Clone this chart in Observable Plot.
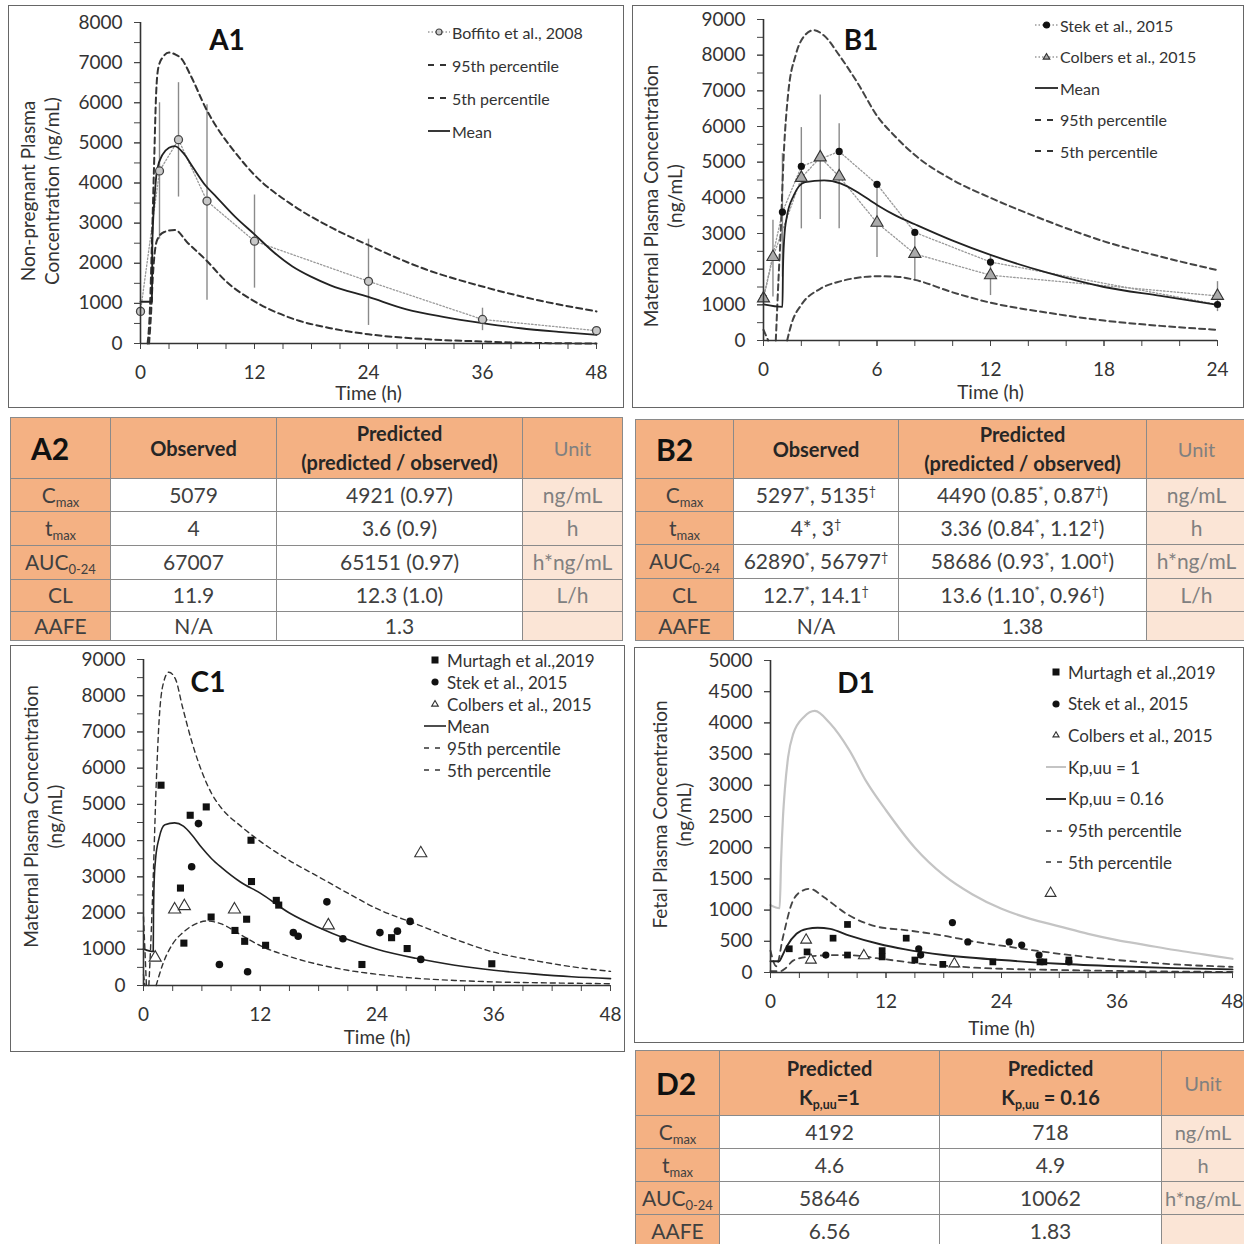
<!DOCTYPE html>
<html><head><meta charset="utf-8">
<script src="https://cdn.jsdelivr.net/npm/d3@7"></script>
<script src="https://cdn.jsdelivr.net/npm/@observablehq/plot@0.6"></script>
<style>
body{margin:0;width:1244px;height:1244px;position:relative;overflow:hidden;background:#fff;font-family:Lato,"Open Sans",sans-serif;}
.box{position:absolute;border:1.5px solid #666;box-sizing:border-box;}
.plab{position:absolute;font-weight:bold;font-size:28px;color:#111;transform:translate(-50%,-50%);line-height:1;}
.lrow{position:absolute;display:flex;align-items:center;white-space:nowrap;color:#333;}
.lrow svg{flex:none;}
table.t{position:absolute;border-collapse:collapse;table-layout:fixed;font-size:21px;color:#404040;}
table.t td{border:1.5px solid #8a8a8a;text-align:center;padding:0;line-height:1.15;overflow:hidden;white-space:nowrap;}
table.t td.h{background:#F4B183;font-weight:bold;color:#262626;font-size:20px;line-height:1.45;}
table.t td.id{background:#F4B183;font-weight:bold;color:#111;font-size:30px;text-align:left;padding-left:20px;}
table.t td.hu{background:#F4B183;color:#808080;font-size:20px;}
table.t td.l{background:#F4B183;color:#404040;}
table.t td.u{background:#FBE5D6;color:#808080;}
table.t.d2 td.u{font-size:20px;}
sub{font-size:0.62em;vertical-align:-0.3em;line-height:0;}
sup{font-size:0.6em;vertical-align:0.55em;line-height:0;}
</style>
</head><body>
<script>
// ---------------- A1 data ----------------
const A1_MEAN_T = [0,1.2,1.25,1.5,1.75,2.3,3.0,3.6,4.5,5.5,6.8,8,10,12,14,16,18,20,24,28,32,36,40,44,48];
const A1_MEAN   = [1040,1040,2500,3700,4330,4700,4880,4921,4750,4400,3950,3650,3150,2720,2280,1920,1660,1450,1160,850,660,510,380,290,215];
const A1_P95_T  = [0.75,1.0,1.2,1.4,1.65,1.9,2.4,3.0,3.7,4.3,5.3,6.9,8,10,12,16,20,24,30,36,42,48];
const A1_P95    = [0,900,2500,4200,6250,6900,7150,7250,7200,7100,6670,5850,5400,4750,4200,3450,2900,2450,1850,1420,1070,800];
const A1_P5_T   = [0.9,1.1,1.3,1.75,2.5,3.6,5,6.9,9,12,16,20,24,30,36,40,48];
const A1_P5     = [0,700,1670,2580,2780,2830,2500,2080,1550,1050,620,380,230,110,50,20,0];
const BOFFITO_T  = [0,2,4,7,12,24,36,48];
const BOFFITO    = [800,4300,5079,3550,2550,1550,600,320];
const BOFFITO_LO = [null,2600,3650,1080,1380,450,320,null];
const BOFFITO_HI = [null,6000,6500,5950,3700,2600,880,null];

// ---------------- B1 data ----------------
const B1_MEAN_T = [0,1.0,1.03,1.1,1.23,1.6,2.2,3.2,4.1,5,6,7,8,10,12,15,18,21,24];
const B1_MEAN   = [1010,940,2000,2900,3460,4070,4440,4490,4400,4150,3800,3500,3260,2800,2400,1900,1500,1250,1000];
const B1_P95_T  = [0.65,0.8,0.9,1.06,1.3,1.7,2.1,2.65,3.2,4,5,6,7,8,10,12,15,18,21,24];
const B1_P95    = [0,1800,2900,5100,6900,8000,8500,8700,8550,8000,7200,6300,5700,5200,4500,4000,3350,2780,2350,1970];
const B1_P5_T   = [0,0.25,0.3,1.25,1.5,2,3,4,6,7,8,10,12,15,18,21,24];
const B1_P5     = [300,0,null,0,500,1000,1450,1650,1800,1790,1700,1350,1060,780,560,410,300];
const STEK_B_T  = [0,1,2,4,6,8,12,24];
const STEK_B    = [1200,3600,4880,5300,4380,3030,2200,1010];
const COLB_B_T  = [0,0.5,2,3,4,6,8,12,24];
const COLB_B    = [1180,2340,4560,5135,4600,3300,2430,1830,1250];
const B1_ERR_T  = [0.5,1,2,3,4,6,8,12,24];
const B1_ERR_LO = [1220,1780,3130,3390,3130,2330,1690,1260,810];
const B1_ERR_HI = [3370,5240,5970,6880,6080,4380,3030,2390,1650];

// ---------------- C1 data ----------------
const C1_MEAN_T = [0,1.0,1.03,1.1,1.23,1.6,2.2,3.2,4.1,5,6,7,8,10,12,15,18,21,24,28,32,36,40,44,48];
const C1_MEAN   = [1010,940,2000,2900,3460,4070,4440,4490,4400,4150,3800,3500,3260,2850,2550,2000,1600,1270,1000,750,560,420,320,240,190];
const C1_P95_T  = [0,0.3,0.35,0.55,0.8,1.0,1.3,1.6,2.0,2.6,3.3,4,5,6,7,8,10,12,15,18,21,24,28,32,36,40,44,48];
const C1_P95    = [1900,0,null,0,1500,3000,5500,7300,8300,8650,8450,7700,6700,5900,5300,4900,4400,3980,3450,3000,2550,2120,1700,1280,920,700,520,390];
const C1_P5_T   = [0,0.15,0.2,1.3,2,3,4,5,6.5,8,10,12,15,18,21,24,28,32,36,42,48];
const C1_P5     = [300,0,null,0,600,1150,1450,1650,1780,1700,1400,1100,800,580,420,310,200,140,100,70,50];
const MURT_C_T  = [1.8,3.8,4.15,4.8,6.45,6.95,9.4,10.4,10.6,11.05,11.1,12.55,13.65,13.9,22.45,25.5,27.1,35.8];
const MURT_C    = [5530,2690,1170,4700,4930,1890,1520,1220,1830,4010,2870,1110,2350,2220,580,1320,1020,600];
const STEK_C_T  = [4.95,5.65,7.8,10.7,15.4,15.9,18.85,20.5,24.3,26.1,27.4,28.5];
const STEK_C    = [3280,4470,580,380,1460,1360,2310,1290,1460,1500,1770,720];
const COLB_C_T  = [1.2,3.2,4.2,9.35,19.0,28.5];
const COLB_C    = [770,2100,2190,2100,1660,3650];

// ---------------- D1 data ----------------
const D1_KP1_T   = [0,0.95,1.1,1.3,1.5,1.83,2.35,3.5,4.6,6.2,8.2,10,12,15,18,21,24,27,30,33,36,39,42,45,48];
const D1_KP1     = [1080,1030,1800,2500,2950,3450,3820,4100,4192,3990,3560,3050,2600,2000,1560,1250,1020,860,740,620,520,440,360,290,220];
const D1_KP016_T = [0,0.9,1.2,1.66,2.7,3.8,4.9,6.2,8.2,11.2,14,18,24,30,36,42,48];
const D1_KP016   = [180,180,260,410,620,700,718,700,590,460,370,280,200,140,100,70,50];
const D1_P95_T   = [0,0.6,1.3,2.2,3.2,4.1,5.6,7.9,11.2,14,18,21,24,30,36,42,48];
const D1_P95     = [350,100,570,1100,1300,1340,1200,940,730,680,590,500,430,300,200,130,90];
const D1_P5_T    = [0,1,1.5,2.35,3.7,5,7,9,11,13,15,18,21,24,30,36,42,48];
const D1_P5      = [20,20,60,190,250,270,280,270,230,190,150,110,80,60,40,25,15,10];
const MURT_D_T   = [1.95,3.8,6.5,8.0,8.0,11.6,11.6,14.1,15.0,17.9,23.1,28.0,28.4,31.0];
const MURT_D     = [380,330,550,770,280,350,250,550,200,130,170,170,170,200];
const STEK_D_T   = [5.75,15.4,15.6,18.9,20.5,24.8,26.1,27.9,31.0];
const STEK_D     = [280,380,280,800,490,490,440,280,170];
const COLB_D_T   = [3.7,4.2,9.7,19.1,29.1];
const COLB_D     = [520,200,270,140,1270];

// ---------------- tables ----------------
const A2_PARAMS    = ["C<sub>max</sub>","t<sub>max</sub>","AUC<sub>0-24</sub>","CL","AAFE"];
const A2_OBSERVED  = ["5079","4","67007","11.9","N/A"];
const A2_PREDICTED = ["4921 (0.97)","3.6 (0.9)","65151 (0.97)","12.3 (1.0)","1.3"];
const A2_UNITS     = ["ng/mL","h","h*ng/mL","L/h",""];
const B2_OBSERVED  = ["5297<sup>*</sup>, 5135<sup>†</sup>","4*, 3<sup>†</sup>","62890<sup>*</sup>, 56797<sup>†</sup>","12.7<sup>*</sup>, 14.1<sup>†</sup>","N/A"];
const B2_PREDICTED = ["4490 (0.85<sup>*</sup>, 0.87<sup>†</sup>)","3.36 (0.84<sup>*</sup>, 1.12<sup>†</sup>)","58686 (0.93<sup>*</sup>, 1.00<sup>†</sup>)","13.6 (1.10<sup>*</sup>, 0.96<sup>†</sup>)","1.38"];
const D2_PARAMS    = ["C<sub>max</sub>","t<sub>max</sub>","AUC<sub>0-24</sub>","AAFE"];
const D2_KP1       = ["4192","4.6","58646","6.56"];
const D2_KP016     = ["718","4.9","10062","1.83"];
const D2_UNITS     = ["ng/mL","h","h*ng/mL",""];

// ---------------- helpers ----------------
const S = (T, V) => T.map((t, i) => ({t, v: V[i]}));
const E = (T, L, H) => T.map((t, i) => ({t, lo: L[i], hi: H[i]})).filter(d => d.lo != null);

function chart(o) {
  const p = Plot.plot({
    width: o.w, height: o.h,
    marginLeft: o.ml, marginRight: o.mr, marginTop: o.mt, marginBottom: o.mb,
    style: {fontFamily: "Lato, 'Open Sans', sans-serif", fontSize: "19px", color: "#333", background: "transparent", overflow: "visible"},
    x: {domain: [0, o.xmax]},
    y: {domain: [0, o.ymax]},
    marks: [
      Plot.axisX({ticks: d3.range(0, o.xmax + 0.001, o.xMajor), tickSize: 6, tickPadding: 16, label: null, stroke: "#444"}),
      Plot.axisX({ticks: d3.range(0, o.xmax + 0.001, o.xMinor), tickSize: 6, tickFormat: () => "", label: null, stroke: "#444"}),
      Plot.axisY({ticks: d3.range(0, o.ymax + 0.001, o.yMajor), tickSize: 6, tickPadding: 12, tickFormat: d3.format("d"), label: null, stroke: "#444"}),
      Plot.axisY({ticks: d3.range(0, o.ymax + 0.001, o.yMinor), tickSize: 6, tickFormat: () => "", label: null, stroke: "#444"}),
      ...o.marks,
      Plot.ruleX([0], {stroke: "#333", strokeWidth: 1.6}),
      Plot.ruleY([0], {stroke: "#333", strokeWidth: 1.6}),
      Plot.text([o.xlabel], {text: d => d, frameAnchor: "bottom", lineAnchor: "middle", dy: o.xlDy, fontSize: 19, fill: "#333"}),
      Plot.text([o.ylabel], {text: d => d, frameAnchor: "left", textAnchor: "middle", lineAnchor: "middle", rotate: -90, dx: o.ylDx, dy: o.ylDy, fontSize: 19, lineHeight: 1.25, fill: "#333"})
    ]
  });
  p.style.position = "absolute";
  p.style.left = o.left + "px";
  p.style.top = o.top + "px";
  document.body.appendChild(p);
  const b = document.createElement("div");
  b.className = "box";
  Object.assign(b.style, {left: o.left + "px", top: o.top + "px", width: o.w + "px", height: o.h + "px"});
  document.body.appendChild(b);
  const l = document.createElement("div");
  l.className = "plab";
  l.textContent = o.panel;
  Object.assign(l.style, {left: o.plx + "px", top: o.ply + "px"});
  document.body.appendChild(l);
}

const dash = (stroke = "#333", w = 1.8, da = "6,4") => ({stroke, strokeWidth: w, strokeDasharray: da, curve: "monotone-x"});
const solid = (stroke = "#222", w = 1.8) => ({stroke, strokeWidth: w, curve: "monotone-x"});
const dotted = {stroke: "#9a9a9a", strokeWidth: 1.3, strokeDasharray: "1.5,2"};

function symbolSvg(it, W) {
  let s = `<svg width="${W}" height="20" viewBox="0 0 ${W} 20">`;
  if (it.line) s += `<line x1="0" x2="${W}" y1="10" y2="10" stroke="${it.line}" stroke-width="${it.lw || 1.8}" ${it.da ? `stroke-dasharray="${it.da}"` : ""}/>`;
  const c = W / 2;
  if (it.sym === "circle") s += `<circle cx="${c}" cy="10" r="${it.r || 3.5}" fill="${it.fill}" stroke="${it.sstroke || it.fill}" stroke-width="1.2"/>`;
  if (it.sym === "square") s += `<rect x="${c - 3.5}" y="6.5" width="7" height="7" fill="#111"/>`;
  if (it.sym === "triangle") { const r = it.r || 4; s += `<path d="M${c},${10 - r} L${c + r * 0.95},${10 + r * 0.6} L${c - r * 0.95},${10 + r * 0.6} Z" fill="${it.fill}" stroke="#333" stroke-width="1.1"/>`; }
  return s + "</svg>";
}
function legend(items, x, y0, dy, W, fs, gap) {
  items.forEach((it, i) => {
    const d = document.createElement("div");
    d.className = "lrow";
    Object.assign(d.style, {left: x + "px", top: (y0 + i * dy - 10) + "px", fontSize: fs + "px", height: "20px"});
    d.innerHTML = symbolSvg(it, W) + `<span style="margin-left:${gap}px">${it.label}</span>`;
    document.body.appendChild(d);
  });
}

// ---------------- A1 ----------------
chart({
  left: 8, top: 5, w: 616, h: 403, ml: 132, mr: 28, mt: 17, mb: 65,
  xmax: 48, xMajor: 12, xMinor: 3, ymax: 8000, yMajor: 1000, yMinor: 500,
  xlabel: "Time (h)", xlDy: 50, ylabel: "Non-pregnant Plasma\nConcentration (ng/mL)", ylDx: -101, ylDy: 8,
  panel: "A1", plx: 227, ply: 39,
  marks: [
    Plot.line(S(BOFFITO_T, BOFFITO), {x: "t", y: "v", ...dotted}),
    Plot.ruleX(E(BOFFITO_T, BOFFITO_LO, BOFFITO_HI), {x: "t", y1: "lo", y2: "hi", stroke: "#8a8a8a", strokeWidth: 1.4}),
    Plot.line(S(A1_P95_T, A1_P95), {x: "t", y: "v", ...dash("#333", 2, "6,4")}),
    Plot.line(S(A1_P5_T, A1_P5), {x: "t", y: "v", ...dash("#333", 2, "6,4")}),
    Plot.line(S(A1_MEAN_T, A1_MEAN), {x: "t", y: "v", ...solid("#222", 1.8)}),
    Plot.dot(S(BOFFITO_T, BOFFITO), {x: "t", y: "v", r: 4, fill: "#c8c8c8", stroke: "#444", strokeWidth: 1.3})
  ]
});
legend([
  {line: "#9a9a9a", lw: 1.3, da: "1.5,2", sym: "circle", r: 3, fill: "#c8c8c8", sstroke: "#444", label: "Boffito et al., 2008"},
  {line: "#333", da: "6,6", label: "95th percentile"},
  {line: "#333", da: "6,6", label: "5th percentile"},
  {line: "#222", label: "Mean"}
], 428, 32, 33, 22, 16, 2);

// ---------------- B1 ----------------
chart({
  left: 632, top: 5, w: 612, h: 403, ml: 131, mr: 27, mt: 14, mb: 68,
  xmax: 24, xMajor: 6, xMinor: 2, ymax: 9000, yMajor: 1000, yMinor: 500,
  xlabel: "Time (h)", xlDy: 52, ylabel: "Maternal Plasma Concentration\n(ng/mL)", ylDx: -101, ylDy: 16,
  panel: "B1", plx: 861, ply: 39,
  marks: [
    Plot.line(S(STEK_B_T, STEK_B), {x: "t", y: "v", ...dotted}),
    Plot.line(S(COLB_B_T, COLB_B), {x: "t", y: "v", ...dotted}),
    Plot.ruleX(E(B1_ERR_T, B1_ERR_LO, B1_ERR_HI), {x: "t", y1: "lo", y2: "hi", stroke: "#8a8a8a", strokeWidth: 1.4}),
    Plot.line(S(B1_P95_T, B1_P95), {x: "t", y: "v", ...dash("#444", 2, "6,4")}),
    Plot.line(S(B1_P5_T, B1_P5), {x: "t", y: "v", ...dash("#444", 2, "6,4")}),
    Plot.line(S(B1_MEAN_T, B1_MEAN), {x: "t", y: "v", ...solid("#222", 1.8)}),
    Plot.dot(S(STEK_B_T, STEK_B), {x: "t", y: "v", r: 3.6, fill: "#111"}),
    Plot.dot(S(COLB_B_T, COLB_B), {x: "t", y: "v", symbol: "triangle", r: 4.5, fill: "#aaa", stroke: "#333", strokeWidth: 1.1})
  ]
});
legend([
  {line: "#9a9a9a", lw: 1.3, da: "1.5,2", sym: "circle", r: 3, fill: "#111", label: "Stek et al., 2015"},
  {line: "#9a9a9a", lw: 1.3, da: "1.5,2", sym: "triangle", r: 3.5, fill: "#aaa", label: "Colbers et al., 2015"},
  {line: "#222", label: "Mean"},
  {line: "#333", da: "6,6", label: "95th percentile"},
  {line: "#333", da: "6,6", label: "5th percentile"}
], 1035, 25, 31.5, 23, 16, 2);

// ---------------- C1 ----------------
chart({
  left: 10, top: 645, w: 615, h: 407, ml: 133, mr: 15, mt: 14, mb: 67,
  xmax: 48, xMajor: 12, xMinor: 3, ymax: 9000, yMajor: 1000, yMinor: 500,
  xlabel: "Time (h)", xlDy: 52, ylabel: "Maternal Plasma Concentration\n(ng/mL)", ylDx: -101, ylDy: -6,
  panel: "C1", plx: 208, ply: 681,
  marks: [
    Plot.line(S(C1_P95_T, C1_P95), {x: "t", y: "v", ...dash("#333", 1.4, "5,4")}),
    Plot.line(S(C1_P5_T, C1_P5), {x: "t", y: "v", ...dash("#333", 1.4, "5,4")}),
    Plot.line(S(C1_MEAN_T, C1_MEAN), {x: "t", y: "v", ...solid("#222", 1.6)}),
    Plot.dot(S(MURT_C_T, MURT_C), {x: "t", y: "v", symbol: "square", r: 4, fill: "#111"}),
    Plot.dot(S(STEK_C_T, STEK_C), {x: "t", y: "v", r: 3.8, fill: "#111"}),
    Plot.dot(S(COLB_C_T, COLB_C), {x: "t", y: "v", symbol: "triangle", r: 4.5, fill: "#fff", stroke: "#333", strokeWidth: 1.1})
  ]
});
legend([
  {sym: "square", label: "Murtagh et al.,2019"},
  {sym: "circle", r: 3, fill: "#111", label: "Stek et al., 2015"},
  {sym: "triangle", r: 3.5, fill: "#fff", label: "Colbers et al., 2015"},
  {line: "#222", lw: 1.6, label: "Mean"},
  {line: "#333", lw: 1.4, da: "5,6", label: "95th percentile"},
  {line: "#333", lw: 1.4, da: "5,6", label: "5th percentile"}
], 424, 660, 22, 22, 17, 1);

// ---------------- D1 ----------------
chart({
  left: 634, top: 647, w: 610, h: 396, ml: 136, mr: 12, mt: 13, mb: 71,
  xmax: 48, xMajor: 12, xMinor: 3, ymax: 5000, yMajor: 500, yMinor: 500,
  xlabel: "Time (h)", xlDy: 56, ylabel: "Fetal Plasma Concentration\n(ng/mL)", ylDx: -99, ylDy: -2,
  panel: "D1", plx: 856, ply: 682,
  marks: [
    Plot.line(S(D1_KP1_T, D1_KP1), {x: "t", y: "v", ...solid("#c4c4c4", 2.2)}),
    Plot.line(S(D1_P95_T, D1_P95), {x: "t", y: "v", ...dash("#444", 1.8, "6,5")}),
    Plot.line(S(D1_P5_T, D1_P5), {x: "t", y: "v", ...dash("#444", 1.8, "6,5")}),
    Plot.line(S(D1_KP016_T, D1_KP016), {x: "t", y: "v", ...solid("#222", 1.9)}),
    Plot.dot(S(MURT_D_T, MURT_D), {x: "t", y: "v", symbol: "square", r: 3.8, fill: "#111"}),
    Plot.dot(S(STEK_D_T, STEK_D), {x: "t", y: "v", r: 3.6, fill: "#111"}),
    Plot.dot(S(COLB_D_T, COLB_D), {x: "t", y: "v", symbol: "triangle", r: 4, fill: "#fff", stroke: "#333", strokeWidth: 1.1})
  ]
});
legend([
  {sym: "square", label: "Murtagh et al.,2019"},
  {sym: "circle", r: 3, fill: "#111", label: "Stek et al., 2015"},
  {sym: "triangle", r: 3.2, fill: "#fff", label: "Colbers et al., 2015"},
  {line: "#c4c4c4", lw: 2, label: "Kp,uu = 1"},
  {line: "#222", lw: 1.9, label: "Kp,uu = 0.16"},
  {line: "#333", lw: 1.6, da: "5,6", label: "95th percentile"},
  {line: "#333", lw: 1.6, da: "5,6", label: "5th percentile"}
], 1046, 672, 31.7, 20, 17, 2);

// ---------------- tables ----------------
function table(left, top, cols, heights, headerHTML, rows, cls) {
  const t = document.createElement("table");
  t.className = "t" + (cls ? " " + cls : "");
  Object.assign(t.style, {left: left + "px", top: top + "px", width: cols.reduce((a, b) => a + b, 0) + "px"});
  let html = "<colgroup>" + cols.map(c => `<col style="width:${c}px">`).join("") + "</colgroup>";
  html += `<tr style="height:${heights[0]}px">${headerHTML}</tr>`;
  rows.forEach((r, i) => {
    html += `<tr style="height:${heights[i + 1]}px"><td class="l">${r[0]}</td>`;
    html += `<td>${r[1]}</td><td>${r[2]}</td><td class="u">${r[3]}</td>`;
    html += "</tr>";
  });
  t.innerHTML = html;
  document.body.appendChild(t);
}
const hdrAB = id => `<td class="id">${id}</td><td class="h">Observed</td><td class="h">Predicted<br>(predicted / observed)</td><td class="hu">Unit</td>`;
table(10, 417, [100, 166, 246, 100], [61, 33, 34, 34, 32, 29], hdrAB("A2"),
  A2_PARAMS.map((p, i) => [p, A2_OBSERVED[i], A2_PREDICTED[i], A2_UNITS[i]]));
table(635, 419, [98, 165, 248, 100], [59, 33, 33, 34, 33, 29], hdrAB("B2"),
  A2_PARAMS.map((p, i) => [p, B2_OBSERVED[i], B2_PREDICTED[i], A2_UNITS[i]]));
table(635, 1050, [84, 220, 222, 83], [65, 33, 33, 33, 33],
  `<td class="id">D2</td><td class="h">Predicted<br>K<sub>p,uu</sub>=1</td><td class="h">Predicted<br>K<sub>p,uu</sub> = 0.16</td><td class="hu">Unit</td>`,
  D2_PARAMS.map((p, i) => [p, D2_KP1[i], D2_KP016[i], D2_UNITS[i]]), "d2");
</script>
</body></html>
